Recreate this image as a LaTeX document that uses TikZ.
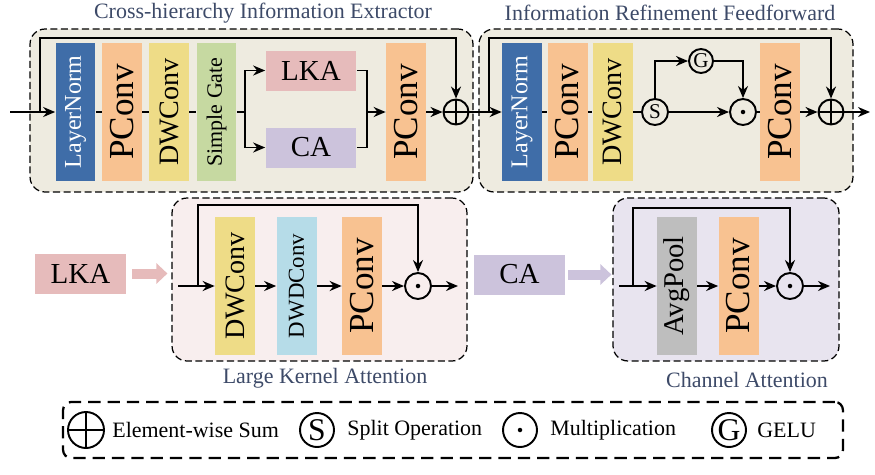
\documentclass[tikz,border=0pt]{standalone}
\usepackage{fontspec}
\setmainfont{Liberation Serif}
\usepackage{xcolor}
\usepackage{graphicx}
\usetikzlibrary{arrows.meta}

\definecolor{lnblue}{HTML}{3F6DA8}
\definecolor{pcpeach}{HTML}{F8C291}
\definecolor{dwyellow}{HTML}{EEDC87}
\definecolor{sggreen}{HTML}{C6D9A1}
\definecolor{lkapink}{HTML}{E6BBBB}
\definecolor{capurple}{HTML}{CCC3DC}
\definecolor{ddblue}{HTML}{B6DCE8}
\definecolor{apgray}{HTML}{BEBEBE}
\definecolor{boxbeige}{HTML}{EEEBE0}
\definecolor{lkabg}{HTML}{F8EEEE}
\definecolor{cabg}{HTML}{E8E4EF}
\definecolor{titlecol}{HTML}{3D4A68}

\newcommand{\vtext}[1]{\rotatebox{90}{#1}}
\newcommand{\pt}[1]{\fontsize{#1}{#1}\selectfont}

\begin{document}
\begin{tikzpicture}[x=0.02cm, y=-0.02cm,
    frame/.style={draw, dash pattern=on 4pt off 2pt, line width=0.7pt, rounded corners=0.3cm, inner sep=0pt},
    blk/.style={inner sep=0pt, minimum width=0.8cm, minimum height=2.78cm},
    lnblk/.style={blk, fill=lnblue, text=white, font=\pt{13.7}},
    pcblk/.style={blk, fill=pcpeach, font=\pt{20}},
    dwblk/.style={blk, fill=dwyellow, font=\pt{16}},
    sgblk/.style={blk, fill=sggreen, font=\pt{12.5}},
    ddblk/.style={blk, fill=ddblue, font=\pt{13}},
    apblk/.style={blk, fill=apgray, font=\pt{16.3}},
    wide/.style={inner sep=0pt, minimum width=1.82cm, minimum height=0.8cm, font=\pt{16.5}},
    op/.style={circle, draw, line width=1.1pt, inner sep=0pt, minimum size=0.52cm, font=\pt{12}},
    sumop/.style={op, minimum size=0.5cm, path picture={\draw[line width=1.1pt] (path picture bounding box.north) -- (path picture bounding box.south) (path picture bounding box.west) -- (path picture bounding box.east);}},
    mulop/.style={op, path picture={\fill (path picture bounding box.center) circle (0.045cm);}},
    line/.style={line width=1.1pt},
    arr/.style={line, -{Stealth[length=0.24cm, width=0.2cm]}},
    fat/.style={line width=0.2cm, -{Triangle[length=0.22cm, width=0.4cm]}},
    title/.style={text=titlecol, font=\pt{12.5}},
    legtext/.style={anchor=west, inner sep=0pt, font=\pt{12.5}}
]
    \useasboundingbox (0,0) rectangle (875,474);

    % 第一个模块 - Cross-hierarchy Information Extractor
    \node[frame, fill=boxbeige, minimum width=8.86cm, minimum height=3.26cm] (ciebox) at (251.5,110.5) {};
    \node[title] (ciet) at (263,13) {Cross-hierarchy Information Extractor};

    \node[lnblk] (ln1) at (75.5,112) {\vtext{LayerNorm}};
    \node[pcblk] (pc1) at (122,112) {\vtext{PConv}};
    \node[dwblk] (dw1) at (169,112) {\vtext{DWConv}};
    \node[sgblk] (sg1) at (216.5,112) {\vtext{Simple Gate}};
    \node[wide, fill=lkapink] (lka1) at (311,70.5) {LKA};
    \node[wide, fill=capurple] (ca1) at (311,147.5) {CA};
    \node[pcblk] (pc2) at (406,112) {\vtext{PConv}};
    \node[sumop] (sum1) at (456,112) {};

    \coordinate (in1) at (10,112);
    \coordinate (sk1) at (40,112);
    \coordinate (sp1) at (245,112);
    \coordinate (mg1) at (367,112);

    \draw[arr] (in1) -- (ln1);
    \draw[arr] (sk1) -- ++(0,-74) -| (sum1.north);
    \foreach \a/\b in {ln1/pc1, pc1/dw1, dw1/sg1}
        \draw[line] (\a) -- (\b);
    \draw[line] (sg1) -- (sp1);
    \draw[arr] (sp1) |- (lka1.west);
    \draw[arr] (sp1) |- (ca1.west);
    \draw[line] (lka1.east) -| (mg1);
    \draw[line] (ca1.east) -| (mg1);
    \draw[arr] (mg1) -- (pc2);
    \draw[arr] (pc2) -- (sum1);

    % 第二个模块 - Information Refinement Feedforward
    \node[frame, fill=boxbeige, minimum width=7.48cm, minimum height=3.26cm] (irfbox) at (666,110.5) {};
    \node[title] (irft) at (670,13) {Information Refinement Feedforward};

    \node[lnblk] (ln2) at (522,112) {\vtext{LayerNorm}};
    \node[pcblk] (pc3) at (567.5,112) {\vtext{PConv}};
    \node[dwblk] (dw2) at (612.5,112) {\vtext{DWConv}};
    \node[op] (s) at (655,112) {S};
    \node[op, minimum size=0.48cm] (g) at (701,61) {G};
    \node[mulop] (mul1) at (743,112) {};
    \node[pcblk] (pc4) at (780,112) {\vtext{PConv}};
    \node[sumop] (sum2) at (831,112) {};

    \coordinate (sk2) at (489,112);
    \coordinate (out1) at (870,112);

    \draw[arr] (sum1) -- (ln2);
    \draw[arr] (sk2) -- ++(0,-74) -| (sum2.north);
    \foreach \a/\b in {ln2/pc3, pc3/dw2, dw2/s}
        \draw[line] (\a) -- (\b);
    \draw[arr] (s) -- (mul1);
    \draw[arr] (s.north) |- (g.west);
    \draw[arr] (g.east) -| (mul1.north);
    \draw[line] (mul1) -- (pc4);
    \draw[arr] (pc4) -- (sum2);
    \draw[arr] (sum2) -- (out1);

    % 第三个模块 - Large Kernel Attention
    \node[frame, fill=lkabg, minimum width=5.9cm, minimum height=3.26cm] (lkabox) at (319.5,279.5) {};
    \node[title] (lkat) at (325,378) {Large Kernel Attention};
    \node[wide, fill=lkapink] (lkalbl) at (80.5,273.5) {LKA};

    \node[dwblk] (dw3) at (235,286) {\vtext{DWConv}};
    \node[ddblk] (dd) at (296.5,286) {\vtext{DWDConv}};
    \node[pcblk] (pc5) at (362,286) {\vtext{PConv}};
    \node[mulop] (mul2) at (418,286) {};

    \coordinate (in2) at (178,286);
    \coordinate (sk3) at (198,286);
    \coordinate (out2) at (458,286);

    \draw[fat, lkapink, shorten <=0.12cm, shorten >=0.08cm] (lkalbl.east) -- (lkalbl.east -| lkabox.west);
    \draw[arr] (in2) -- (dw3);
    \draw[arr] (sk3) -- ++(0,-81) -| (mul2.north);
    \foreach \a/\b in {dw3/dd, dd/pc5, pc5/mul2, mul2/out2}
        \draw[arr] (\a) -- (\b);

    % 第四个模块 - Channel Attention
    \node[frame, fill=cabg, minimum width=4.52cm, minimum height=3.26cm] (cabox) at (726,279.5) {};
    \node[title] (cat) at (747,380) {Channel Attention};
    \node[wide, fill=capurple] (calbl) at (519.5,274.5) {CA};

    \node[apblk] (ap) at (677,286) {\vtext{AvgPool}};
    \node[pcblk] (pc6) at (738.5,286) {\vtext{PConv}};
    \node[mulop] (mul3) at (790,286) {};

    \coordinate (in3) at (619,286);
    \coordinate (sk4) at (633,286);
    \coordinate (out3) at (830,286);

    \draw[fat, capurple, shorten <=0.06cm, shorten >=0.02cm] (calbl.east) -- (calbl.east -| cabox.west);
    \draw[arr] (in3) -- (ap);
    \draw[arr] (sk4) -- ++(0,-78) -| (mul3.north);
    \foreach \a/\b in {ap/pc6, pc6/mul3, mul3/out3}
        \draw[arr] (\a) -- (\b);

    % 图例
    \node[frame, line width=1.3pt, dash pattern=on 7pt off 4pt, rounded corners=0.16cm, minimum width=15.6cm, minimum height=1.12cm] (legend) at (453,430) {};
    \node[sumop, minimum size=0.72cm] (lsum) at (86,430) {};
    \node[legtext] (lsumt) at (112,430) {Element-wise Sum};
    \node[op, minimum size=0.68cm, font=\pt{18}] (ls) at (317,430) {S};
    \node[legtext] (lst) at (347,430) {Split Operation};
    \node[mulop, minimum size=0.68cm] (lmul) at (520,430) {};
    \node[legtext] (lmult) at (550,430) {Multiplication};
    \node[op, minimum size=0.68cm, font=\pt{18}] (lg) at (729,430) {G};
    \node[legtext] (lgt) at (757,430) {GELU};
\end{tikzpicture}
\end{document}
